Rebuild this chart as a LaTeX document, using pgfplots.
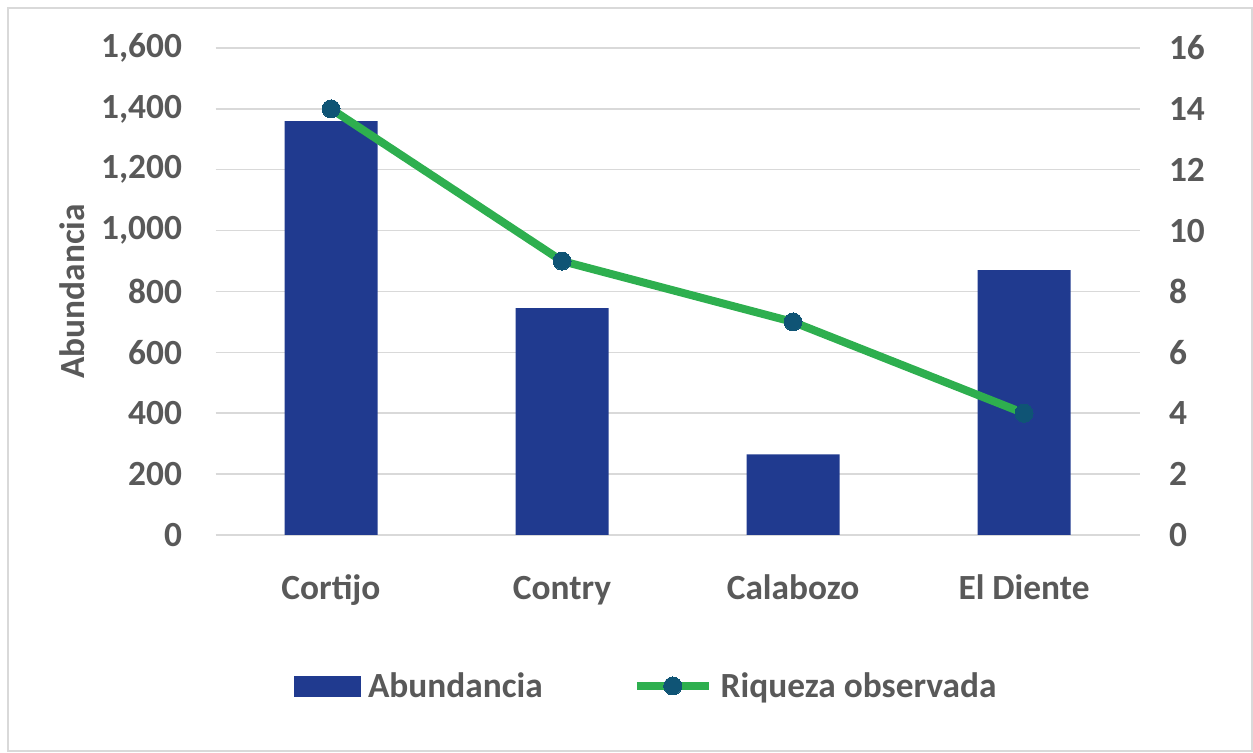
\documentclass[border=0pt]{standalone}
\usepackage{pgfplots}
\pgfplotsset{compat=1.18}
\usepackage{fontspec}
\setmainfont{Carlito}
\definecolor{barblue}{HTML}{203A8F}
\definecolor{lgreen}{HTML}{2EAF4F}
\definecolor{mteal}{HTML}{0F5475}
\definecolor{txt}{HTML}{595959}
\definecolor{gridc}{HTML}{D9D9D9}
\begin{document}
\begin{tikzpicture}[x=1bp,y=1bp]
\useasboundingbox (0,0) rectangle (1253,753);
\draw[gridc, line width=1.2bp] (8,2) rectangle (1252,745);
\pgfplotsset{
 common/.style={
  scale only axis, width=924bp, height=487bp, at={(215.5bp,218bp)}, anchor=south west,
  xmin=-0.5, xmax=3.5, ymin=0,
  axis line style={draw=none}, tick style={draw=none},
  tick label style={font=\fontsize{35.5}{42}\selectfont\bfseries, text=txt},
  /pgf/number format/assume math mode=true,
  /pgf/number format/1000 sep={,},
 }
}
\begin{axis}[common, ymax=1600, ytick={0,200,...,1600}, ymajorgrids,
 major grid style={gridc, line width=1.5bp},
 xtick={0,1,2,3}, xticklabels={Cortijo,Contry,Calabozo,El Diente},
 x tick label style={yshift=-34bp, text height=27bp, text depth=8bp},
 y tick label style={xshift=-30bp},
 ylabel={Abundancia},
 ylabel style={font=\fontsize{35.5}{42}\selectfont\bfseries, text=txt,
   at={(rel axis cs:0,0.5)}, anchor=center, yshift=143.5bp},
]
\addplot[ybar, bar width=93bp, fill=barblue, draw=none] coordinates {(0,1360)(1,745)(2,265)(3,870)};
\end{axis}
\begin{axis}[common, ymax=16, ytick={0,2,...,16}, yticklabel pos=right, xtick=\empty,
 y tick label style={xshift=26bp},
 legend columns=2,
 legend style={at={(0.466,-0.31)}, anchor=center, draw=none, fill=none,
   font=\fontsize{35.5}{42}\selectfont\bfseries, text=txt,
   /tikz/every odd column/.append style={column sep=6bp},
   /tikz/every even column/.append style={column sep=88bp}},
]
\addlegendimage{legend image code/.code={\fill[barblue] (0bp,-10bp) rectangle (66bp,10bp);}}
\addlegendentry{Abundancia}
\addplot[lgreen, line width=8bp, mark=*, mark size=9bp, mark options={fill=mteal, draw=mteal, line width=0bp},
 legend image code/.code={\draw[lgreen, line width=8bp, mark=*, mark size=9bp, mark options={fill=mteal, draw=mteal, line width=0bp}, mark repeat=2, mark phase=2] plot coordinates {(0bp,0bp)(36bp,0bp)(72bp,0bp)};}]
 coordinates {(0,14)(1,9)(2,7)(3,4)};
\addlegendentry{Riqueza observada}
\end{axis}
\end{tikzpicture}
\end{document}
